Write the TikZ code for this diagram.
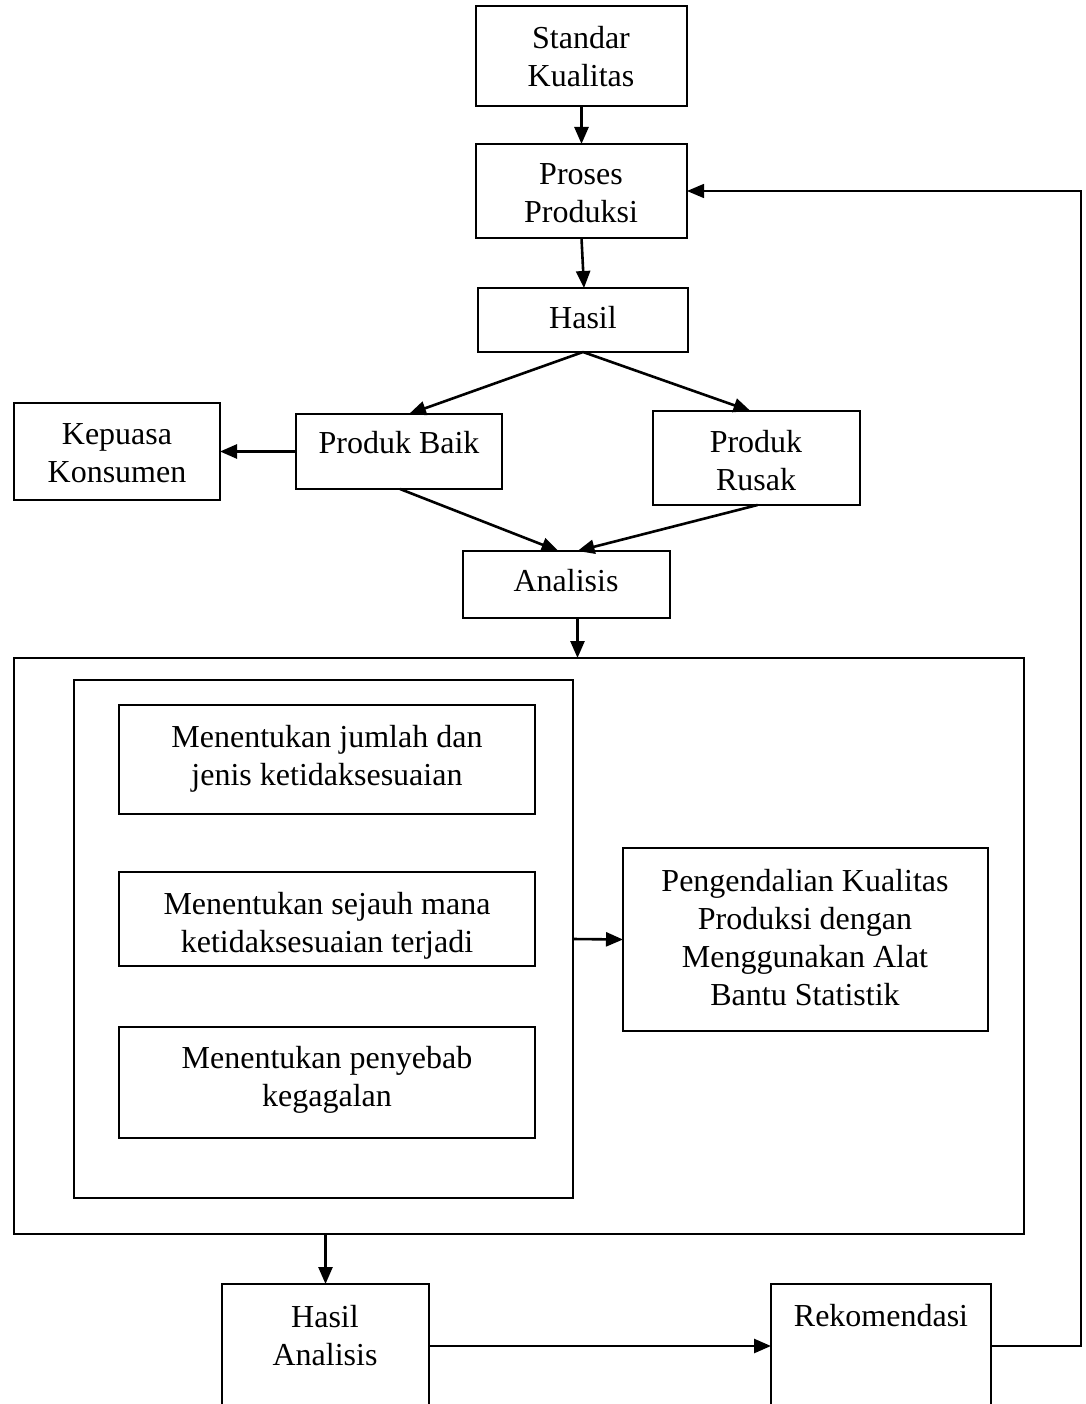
\documentclass[tikz,border=0pt]{standalone}
\usepackage{fontspec}
\setmainfont{Liberation Serif}
\usetikzlibrary{arrows.meta,calc}
\begin{document}
\begin{tikzpicture}[x=1pt,y=-1pt,
  box/.style={draw, line width=2.6pt, rectangle, inner sep=0pt, outer sep=0pt, anchor=north west},
  txt/.style={font=\fontsize{32}{38}\selectfont, align=center, inner sep=0pt, text height=24pt, text depth=4pt},
  two/.style={yshift=-19pt},
  four/.style={yshift=-57pt},
  arr/.style={line width=2.6pt, -{Triangle[length=17pt,width=14pt]}},
  thinarr/.style={line width=1.5pt, -{Triangle[length=17pt,width=14pt]}}]
\useasboundingbox (0,0) rectangle (1085,1404);
\clip (0,0) rectangle (1085,1404);
% boxes
\node[box, minimum width=211pt, minimum height=100pt] (sk) at (476,6) {};
\node[box, minimum width=211pt, minimum height=94pt] (pp) at (476,144) {};
\node[box, minimum width=210pt, minimum height=64pt] (ha) at (478,288) {};
\node[box, minimum width=206pt, minimum height=97pt] (kk) at (14,403) {};
\node[box, minimum width=206pt, minimum height=75pt] (pb) at (296,414) {};
\node[box, minimum width=207pt, minimum height=94pt] (pr) at (653,411) {};
\node[box, minimum width=207pt, minimum height=67pt] (an) at (463,551) {};
\node[box, minimum width=1010pt, minimum height=576pt] (big) at (14,658) {};
\node[box, minimum width=499pt, minimum height=518pt] (inner) at (74,680) {};
\node[box, minimum width=416pt, minimum height=109pt] (m1) at (119,705) {};
\node[box, minimum width=416pt, minimum height=94pt] (m2) at (119,872) {};
\node[box, minimum width=416pt, minimum height=111pt] (m3) at (119,1027) {};
\node[box, minimum width=365pt, minimum height=183pt] (pk) at (623,848) {};
\node[box, minimum width=207pt, minimum height=150pt] (hasilan) at (222,1284) {};
\node[box, minimum width=220pt, minimum height=150pt] (rek) at (771,1284) {};
% texts
\node[txt, two] (sk-t) at (581,58) {Standar\\Kualitas};
\node[txt, two] (pp-t) at (581,194) {Proses\\Produksi};
\node[txt] (ha-t) at (583,318) {Hasil};
\node[txt, two] (kk-t) at (117,453) {Kepuasa\\Konsumen};
\node[txt] (pb-t) at (399,443) {Produk Baik};
\node[txt, two] (pr-t) at (756,461) {Produk\\Rusak};
\node[txt] (an-t) at (566,581) {Analisis};
\node[txt, two] (m1-t) at (327,756) {Menentukan jumlah dan\\jenis ketidaksesuaian};
\node[txt, two] (m2-t) at (327,923) {Menentukan sejauh mana\\ketidaksesuaian terjadi};
\node[txt, two] (m3-t) at (327,1077) {Menentukan penyebab\\kegagalan};
\node[txt, four] (pk-t) at (805,938) {Pengendalian Kualitas\\Produksi dengan\\Menggunakan Alat\\Bantu Statistik};
\node[txt, two] (hasilan-t) at (325,1336) {Hasil\\Analisis};
\node[txt] (rek-t) at (881,1316) {Rekomendasi};
% connectors
\draw[arr] (sk.south) -- (pp.north);
\draw[arr] (pp.south) -- ($(ha.north)+(1,0)$);
\draw[arr] (ha.south) -- ($(pb.north)+(10,0)$);
\draw[arr] (ha.south) -- ($(pr.north)+(-6,0)$);
\draw[arr] (pb.west) -- (kk.east);
\draw[arr] ($(pb.south)+(1,0)$) -- ($(an.north)+(-8,0)$);
\draw[arr] ($(pr.south)+(1,0)$) -- ($(an.north)+(11,0)$);
\draw[arr] ($(an.south)+(11,0)$) -- ($(an.south)+(11,40)$);
\draw[arr] (inner.east) -- (pk.west);
\draw[arr] (big.south -| hasilan.north) -- (hasilan.north);
\coordinate (hx) at ($(hasilan.north east)+(0,62)$);
\draw[arr] (hx) -- (hx -| rek.west);
\coordinate (rx) at ($(rek.north east)+(0,62)$);
\draw[thinarr] (rx) -- ++(90,0) |- (pp.east);
\end{tikzpicture}
\end{document}
